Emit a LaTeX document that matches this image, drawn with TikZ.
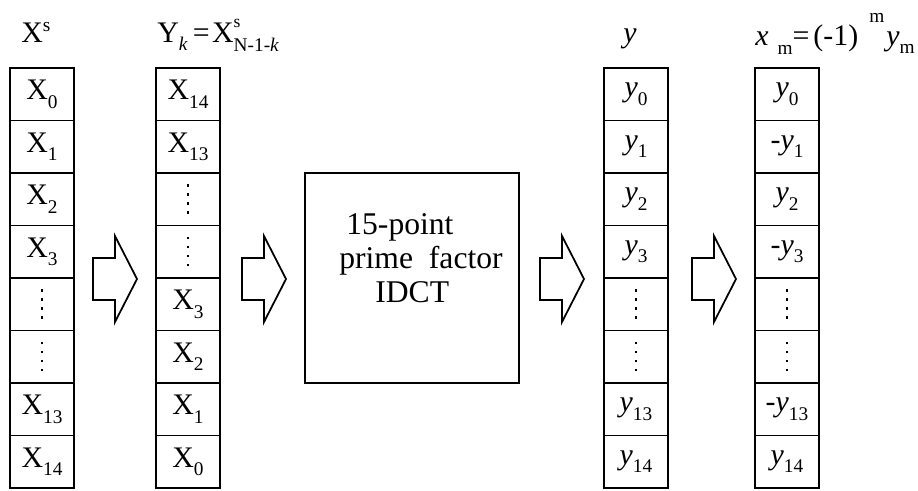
\documentclass[tikz,border=0pt]{standalone}
\usepackage{fontspec}
\setmainfont{Liberation Serif}
\usetikzlibrary{positioning}
\newcommand\dn[1]{\raisebox{-0.17cm}{\fontsize{11}{12}\selectfont #1}}
\newcommand\up[1]{\raisebox{0.22cm}{\fontsize{11}{12}\selectfont #1}}
\newcommand\yv[1]{\textit{y}\dn{#1}}
\newcommand\dotbit{\hbox{\rule{0.05cm}{0.05cm}}}
\newcommand\dotcol{\vbox{\baselineskip=0.18cm\dotbit\dotbit\dotbit\dotbit}}
\tikzset{
  cell/.style    ={draw,line width=1pt,minimum width=1.28cm,minimum height=1.05cm,
                   inner sep=0pt,outer sep=0pt,font=\fontsize{17}{20}\selectfont},
  procbox/.style ={draw,line width=1.2pt,minimum width=4.28cm,minimum height=4.2cm},
  blockarr/.style={draw,line width=1pt,line join=miter},
  lbl/.style     ={anchor=base west,inner sep=0pt,font=\fontsize{17}{20}\selectfont}
}
\begin{document}
\begin{tikzpicture}[x=0.02cm,y=-0.02cm]
  \useasboundingbox (0,0) rectangle (918,490);
  % input sequence
  \node[lbl] (lxs) at (21,42) {X\up{s}};
  \node[cell] (xs1) at (42,94.25) {X\dn{0}};
  \foreach \t [count=\i from 2] in {X\dn{1},X\dn{2},X\dn{3},\dotcol,\dotcol,X\dn{13},X\dn{14}}{
    \pgfmathtruncatemacro\j{\i-1}
    \node[cell,below=0pt of xs\j] (xs\i) {\t};
  }
  % reordered
  \node[lbl] (lyk) at (157,42) {Y\dn{\textit{k}}\hspace{0.1cm}=\hspace{0.05cm}X\rlap{\raisebox{0.3cm}{\fontsize{10}{11}\selectfont s}}\raisebox{-0.2cm}{\fontsize{11}{12}\selectfont N-1-\textit{k}}};
  \node[cell] (yk1) at (188,94.25) {X\dn{14}};
  \foreach \t [count=\i from 2] in {X\dn{13},\dotcol,\dotcol,X\dn{3},X\dn{2},X\dn{1},X\dn{0}}{
    \pgfmathtruncatemacro\j{\i-1}
    \node[cell,below=0pt of yk\j] (yk\i) {\t};
  }
  % transform
  \node[procbox] (pfa) at (412,278) {};
  \node[inner sep=0pt,align=left,font=\fontsize{18}{19.5}\selectfont] (pfatxt) at (421,258)
    {\hspace{0.14cm}15-point\\prime\hspace{0.5em}factor\\\hspace{0.72cm}IDCT};
  % output y
  \node[lbl] (ly) at (623,42) {\textit{y}};
  \node[cell] (yv1) at (636,94.25) {\yv{0}};
  \foreach \t [count=\i from 2] in {\yv{1},\yv{2},\yv{3},\dotcol,\dotcol,\yv{13},\yv{14}}{
    \pgfmathtruncatemacro\j{\i-1}
    \node[cell,below=0pt of yv\j] (yv\i) {\t};
  }
  % sign change
  \node[lbl] (lxm) at (755,45) {\textit{x}\hspace{0.18cm}\raisebox{-0.2cm}{\fontsize{11}{12}\selectfont m}=\hspace{0.08cm}(-1)\hspace{0.22cm}\raisebox{0.46cm}{\fontsize{11}{12}\selectfont m}\hspace{0.04cm}\textit{y}\dn{m}};
  \node[cell] (xm1) at (787,94.25) {\yv{0}};
  \foreach \t [count=\i from 2] in {-\yv{1},\yv{2},-\yv{3},\dotcol,\dotcol,-\yv{13},\yv{14}}{
    \pgfmathtruncatemacro\j{\i-1}
    \node[cell,below=0pt of xm\j] (xm\i) {\t};
  }
  % block arrows
  \foreach \ax in {93,242,540,692}
    \draw[blockarr] (\ax,258) -- ++(22,0) -- ++(0,-22) -- ++(22,43) -- ++(-22,43)
      -- ++(0,-22) -- ++(-22,0) -- cycle;
\end{tikzpicture}
\end{document}
